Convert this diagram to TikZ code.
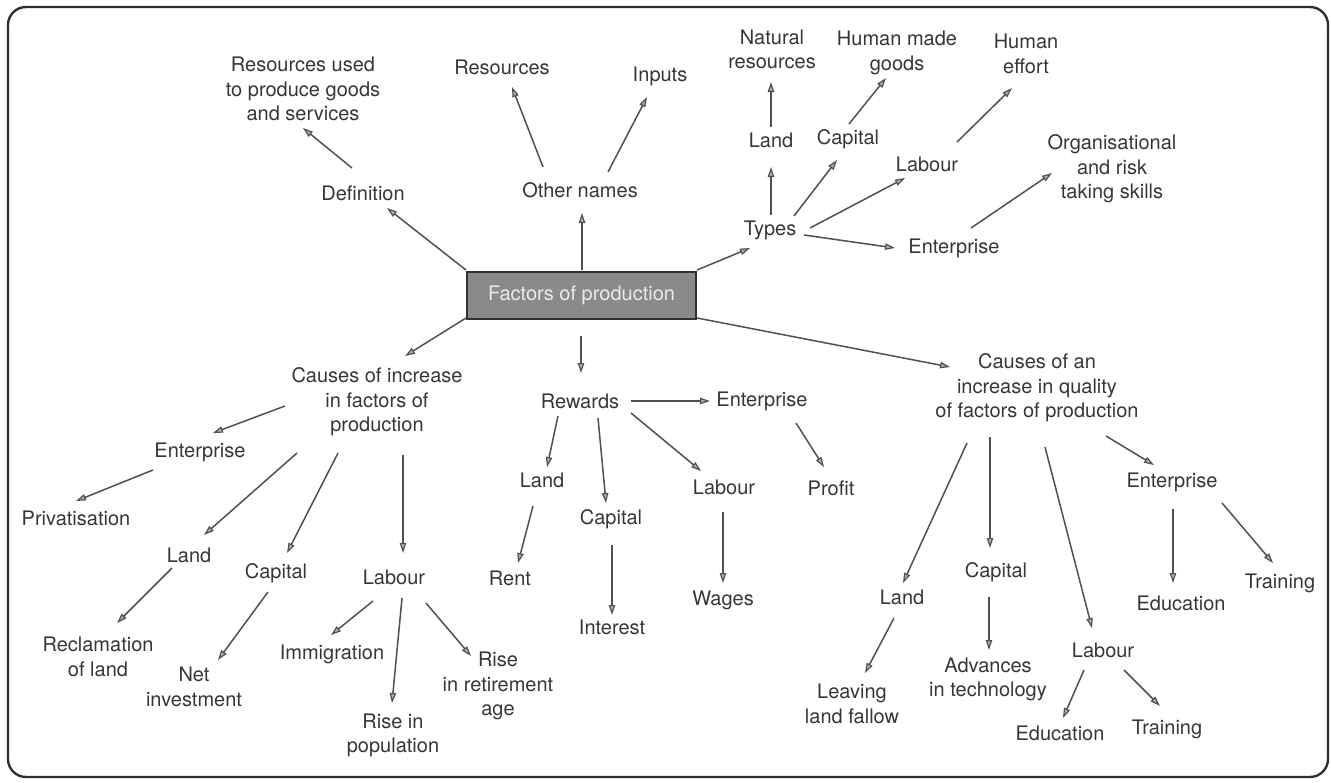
\documentclass[tikz,border=0pt]{standalone}
\usepackage{fontspec}
\setmainfont{TeX Gyre Heros}
\usetikzlibrary{arrows.meta}
\definecolor{inkcol}{HTML}{363636}
\definecolor{linecol}{HTML}{505050}
\definecolor{boxfill}{HTML}{8A8A8A}
\definecolor{boxtext}{HTML}{EAEAEA}
\definecolor{framecol}{HTML}{303030}
\tikzset{
  lbl/.style={inner sep=0pt, align=center, text=inkcol,
    font=\fontsize{10}{12.2}\selectfont},
  conn/.style={draw=linecol, line width=0.75pt,
    -{Triangle[length=5pt, width=3.2pt, line width=0.6pt, fill=linecol!45]}},
  hub/.style={draw=framecol, line width=1pt, fill=boxfill, text=boxtext,
    minimum width=114.5pt, minimum height=23.5pt, inner sep=0pt,
    font=\fontsize{10}{12}\selectfont},
}
% connector between two named nodes, each end offset from the node centre
\newcommand\fplink[4]{\draw[conn] ([shift={(#2)}]#1.center) -- ([shift={(#4)}]#3.center);}
\begin{document}
\begin{tikzpicture}[x=0.5pt, y=-0.5pt]
\useasboundingbox (0,0) rectangle (1331,782);
\draw[framecol, line width=1.2pt, rounded corners=9pt] (8,7) rectangle (1328,777);

% centre
\node[hub] (fp) at (581.5,295.5) {Factors of production};

% upper left: definition and other names
\node[lbl] (def)  at (363,193) {Definition};
\node[lbl] (defn) at (303,89)  {Resources used\\to produce goods\\and services};
\node[lbl] (oth)  at (580,190) {Other names};
\node[lbl] (res)  at (502,67)  {Resources};
\node[lbl] (inp)  at (660,76)  {Inputs};

% upper right: types
\node[lbl] (typ)   at (770,230)    {Types};
\node[lbl] (tland) at (771,140)    {Land};
\node[lbl] (tcap)  at (848,139)    {Capital};
\node[lbl] (tlab)  at (927,164)    {Labour};
\node[lbl] (tent)  at (954,248)    {Enterprise};
\node[lbl] (nat)   at (772,49.5)   {Natural\\resources};
\node[lbl] (hmg)   at (897,53)     {Human made\\goods};
\node[lbl] (heff)  at (1026,54)    {Human\\effort};
\node[lbl] (org)   at (1112,169)   {Organisational\\and risk\\taking skills};

% lower left: causes of increase
\node[lbl] (ci)    at (377,402)  {Causes of increase\\in factors of\\production};
\node[lbl] (cent)  at (200,452)  {Enterprise};
\node[lbl] (priv)  at (76,518)   {Privatisation};
\node[lbl] (cland) at (189,555)  {Land};
\node[lbl] (ccap)  at (276,573)  {Capital};
\node[lbl] (clab)  at (394,577)  {Labour};
\node[lbl] (recl)  at (98,657)   {Reclamation\\of land};
\node[lbl] (net)   at (194,687)  {Net\\investment};
\node[lbl] (imm)   at (332,654)  {Immigration};
\node[lbl] (pop)   at (393,735.5){Rise in\\population};
\node[lbl] (ret)   at (498,686)  {Rise\\in retirement\\age};

% lower middle: rewards
\node[lbl] (rew)    at (580,401) {Rewards};
\node[lbl] (rentr)  at (762,401) {Enterprise};
\node[lbl] (rland)  at (542,480) {Land};
\node[lbl] (rcap)   at (611,519) {Capital};
\node[lbl] (rlab)   at (724,487) {Labour};
\node[lbl] (profit) at (831,488) {Profit};
\node[lbl] (rent)   at (510,578) {Rent};
\node[lbl] (intr)   at (612,627) {Interest};
\node[lbl] (wages)  at (723,600) {Wages};

% lower right: causes of an increase in quality
\node[lbl] (cq)     at (1037,388)   {Causes of an\\increase in quality\\of factors of production};
\node[lbl] (qent)   at (1172,482)   {Enterprise};
\node[lbl] (qcap)   at (996,572)    {Capital};
\node[lbl] (qland)  at (902,597)    {Land};
\node[lbl] (qlab)   at (1103,650)   {Labour};
\node[lbl] (qedua)  at (1181,603)   {Education};
\node[lbl] (qtra)   at (1280,583)   {Training};
\node[lbl] (fallow) at (852,704)    {Leaving\\land fallow};
\node[lbl] (adv)    at (988,679.5)  {Advances\\in technology};
\node[lbl] (qedub)  at (1060,733)   {Education};
\node[lbl] (qtrb)   at (1167,729)   {Training};

% from the centre
\fplink{fp}{-115.5,-25.5}{def}{24,15}
\fplink{fp}{0.5,-25.5}{oth}{2,23}
\fplink{fp}{115.5,-25.5}{typ}{-20,18}
\fplink{fp}{-115.5,22.5}{ci}{28,-46}
\fplink{fp}{-0.5,40.5}{rew}{1,-28}
\fplink{fp}{115.5,22.5}{cq}{-87,-21}

% definition and other names
\fplink{def}{-11,-25}{defn}{0,39}
\fplink{oth}{-37,-23}{res}{10,20}
\fplink{oth}{28,-18}{inp}{-13,21}

% types
\fplink{typ}{1,-15}{tland}{0,27}
\fplink{typ}{24,-14}{tcap}{-11,21}
\fplink{typ}{40,-2}{tlab}{-22,14}
\fplink{typ}{34,5}{tent}{-59,0}
\fplink{tland}{0,-13}{nat}{-1,32.5}
\fplink{tcap}{1,-15}{hmg}{-11,25}
\fplink{tlab}{30,-22}{heff}{-14,34}
\fplink{tent}{17,-20}{org}{-60,4}

% causes of increase
\fplink{ci}{-92,4}{cent}{13,-19}
\fplink{cent}{-47,18}{priv}{0,-17}
\fplink{ci}{-80,51}{cland}{15,-20}
\fplink{ci}{-39,51}{ccap}{11,-20}
\fplink{ci}{26,53}{clab}{9,-24}
\fplink{cland}{-17,13}{recl}{19,-34}
\fplink{ccap}{-8,19}{net}{24,-27}
\fplink{clab}{-21,24}{imm}{-1,-19}
\fplink{clab}{8,21}{pop}{-1,-32.5}
\fplink{clab}{32,26}{ret}{-27,-30}

% rewards
\fplink{rew}{51,0}{rentr}{-52,0}
\fplink{rew}{-22,15}{rland}{5,-13}
\fplink{rew}{18,17}{rcap}{-5,-16}
\fplink{rew}{51,12}{rlab}{-23,-16}
\fplink{rentr}{34,22}{profit}{-7,-21}
\fplink{rland}{-9,26}{rent}{8,-15}
\fplink{rcap}{1,26}{intr}{0,-12}
\fplink{rlab}{-1,25}{wages}{0,-17}

% causes of an increase in quality
\fplink{cq}{69,48}{qent}{-18,-17}
\fplink{cq}{-70,55}{qland}{1,-14}
\fplink{cq}{-47,49}{qcap}{-6,-24}
\fplink{cq}{8,59}{qlab}{-11,-22}
\fplink{qent}{1,27}{qedua}{-8,-20}
\fplink{qent}{50,21}{qtra}{-7,-20}
\fplink{qland}{-8,21}{fallow}{13,-31}
\fplink{qcap}{-7,25}{adv}{1,-29.5}
\fplink{qlab}{-19,20}{qedub}{3,-15}
\fplink{qlab}{21,20}{qtrb}{-7,-23}
\end{tikzpicture}
\end{document}
